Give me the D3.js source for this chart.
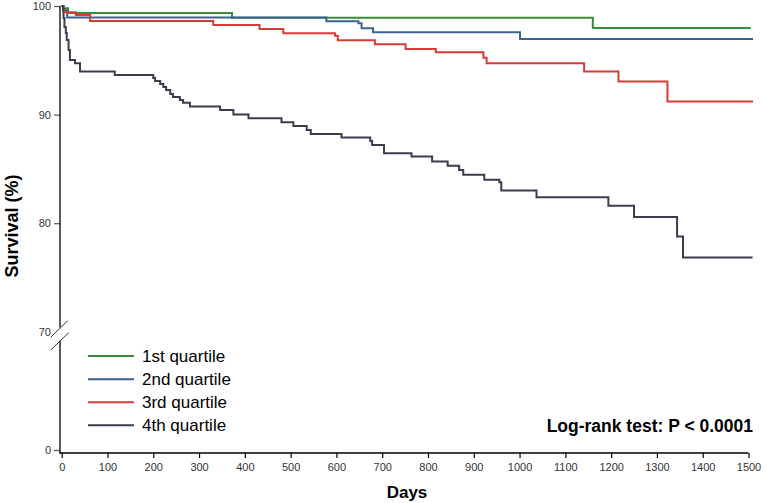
<!DOCTYPE html>
<html>
<head>
<meta charset="utf-8">
<script src="https://cdn.jsdelivr.net/npm/d3@7"></script>
<style>
  html, body { margin: 0; padding: 0; background: #fff; }
  svg { display: block; font-family: "Liberation Sans", Arial, sans-serif; }
</style>
</head>
<body>
<svg id="chart" width="767" height="503"></svg>
<script>
// ---- Data (days, survival %) ----
const seriesNames = ["1st quartile", "2nd quartile", "3rd quartile", "4th quartile"];
const seriesColors = ["#3a8c3a", "#3a6490", "#d63a36", "#3c3c4e"];

const q1 = [[0,100],[4,99.8],[14,99.36],[372,98.92],[1160,97.98],[1505,97.98]];
const q2 = [[0,100],[4,99.6],[12,98.94],[578,98.59],[648,98.41],[655,97.95],[680,97.58],[1001,96.96],[1510,96.96]];
const q3 = [[0,100],[3,99.6],[8,99.42],[31,99.17],[62,98.62],[331,98.25],[432,97.88],[484,97.49],[597,97.27],[603,96.84],[684,96.47],[751,96.04],[817,95.74],[921,95.24],[928,94.73],[1141,93.97],[1216,93.04],[1323,91.2],[1510,91.2]];
const q4 = [[0,100],[3,99.63],[4,98.9],[6,98.07],[9,97.52],[11,96.87],[15,95.95],[18,95.03],[29,94.73],[40,93.97],[116,93.65],[200,93.38],[204,93.1],[215,92.82],[222,92.55],[228,92.27],[237,91.9],[243,91.63],[258,91.35],[265,91.08],[280,90.75],[346,90.43],[375,90.02],[408,89.67],[480,89.3],[506,88.96],[535,88.59],[544,88.22],[611,87.9],[674,87.58],[678,87.21],[704,86.45],[764,86.14],[809,85.68],[843,85.28],[868,84.91],[877,84.45],[923,83.99],[956,83.78],[960,83.01],[1037,82.4],[1194,81.6],[1250,80.56],[1344,78.78],[1357,76.84],[1509,76.84]];
const seriesData = [q1, q2, q3, q4];

const xTicks = [0,100,200,300,400,500,600,700,800,900,1000,1100,1200,1300,1400,1500];
const yTicks = [0,70,80,90,100];

const svg = d3.select("#chart");

// Scales (broken y axis: 0..70 compressed, 70..100 expanded)
const x = d3.scaleLinear().domain([0, 1500]).range([61.7, 748.5]);
const y = d3.scaleLinear().domain([0, 70, 100]).range([450, 331.8, 6]);

const font = '"Liberation Sans", Arial, sans-serif';

// X axis
const xAxisG = svg.append("g").attr("transform", "translate(0,453)")
  .call(d3.axisBottom(x).tickValues(xTicks).tickFormat(d3.format("d")).tickSize(5).tickPadding(5).tickSizeOuter(0));
xAxisG.select(".domain").remove();
xAxisG.append("line").attr("x1", 59.5).attr("x2", x(1500)).attr("y1", 0).attr("y2", 0)
  .attr("stroke", "#000").attr("stroke-width", 1.3);
xAxisG.selectAll(".tick line").attr("stroke", "#000").attr("stroke-width", 1.2);
xAxisG.selectAll(".tick text").attr("fill", "#333").style("font-size", "11px").style("font-family", font);

// Y axis
const yAxisG = svg.append("g").attr("transform", "translate(60,0)")
  .call(d3.axisLeft(y).tickValues(yTicks).tickFormat(d3.format("d")).tickSize(6).tickPadding(3).tickSizeOuter(0));
yAxisG.select(".domain").remove();
yAxisG.selectAll(".tick line").attr("stroke", "#555").attr("stroke-width", 1.2)
  .filter(d => d === 70).remove();
yAxisG.selectAll(".tick text").attr("fill", "#333").style("font-size", "11px").style("font-family", font);
// axis segments with break
yAxisG.append("line").attr("x1", 0).attr("x2", 0).attr("y1", y(100)).attr("y2", 327.5)
  .attr("stroke", "#000").attr("stroke-width", 1.3);
yAxisG.append("line").attr("x1", 0).attr("x2", 0).attr("y1", 340.5).attr("y2", 453.6)
  .attr("stroke", "#000").attr("stroke-width", 1.3);
// break slashes
svg.append("line").attr("x1", 50.7).attr("y1", 337.3).attr("x2", 67.7).attr("y2", 320.7)
  .attr("stroke", "#333").attr("stroke-width", 1);
svg.append("line").attr("x1", 50.7).attr("y1", 350).attr("x2", 68.7).attr("y2", 332.7)
  .attr("stroke", "#333").attr("stroke-width", 1);

// Curves
const line = d3.line().x(d => x(d[0])).y(d => y(d[1])).curve(d3.curveStepAfter);
seriesData.forEach((s, i) => {
  svg.append("path").datum(s).attr("d", line)
    .attr("fill", "none").attr("stroke", seriesColors[i]).attr("stroke-width", 2)
    .attr("stroke-linejoin", "miter");
});

// Axis titles
svg.append("text").attr("x", 407).attr("y", 498).attr("text-anchor", "middle")
  .style("font-size", "17px").style("font-weight", "bold").style("font-family", font)
  .attr("fill", "#000").text("Days");
svg.append("text").attr("transform", "translate(18,226) rotate(-90)").attr("text-anchor", "middle")
  .style("font-size", "18px").style("font-weight", "bold").style("font-family", font)
  .attr("fill", "#000").text("Survival (%)");

// Legend
const legY = [356, 379.3, 402.3, 425.3];
seriesNames.forEach((n, i) => {
  svg.append("line").attr("x1", 88).attr("x2", 134).attr("y1", legY[i]).attr("y2", legY[i])
    .attr("stroke", seriesColors[i]).attr("stroke-width", 2);
  svg.append("text").attr("x", 142).attr("y", legY[i]).attr("dy", "0.35em")
    .style("font-size", "17px").style("font-family", font).attr("fill", "#000").text(n);
});

// Log-rank annotation
svg.append("text").attr("x", 753).attr("y", 426).attr("dy", "0.35em").attr("text-anchor", "end")
  .style("font-size", "17.5px").style("font-weight", "bold").style("font-family", font)
  .attr("fill", "#000").text("Log-rank test: P < 0.0001");
</script>
</body>
</html>
